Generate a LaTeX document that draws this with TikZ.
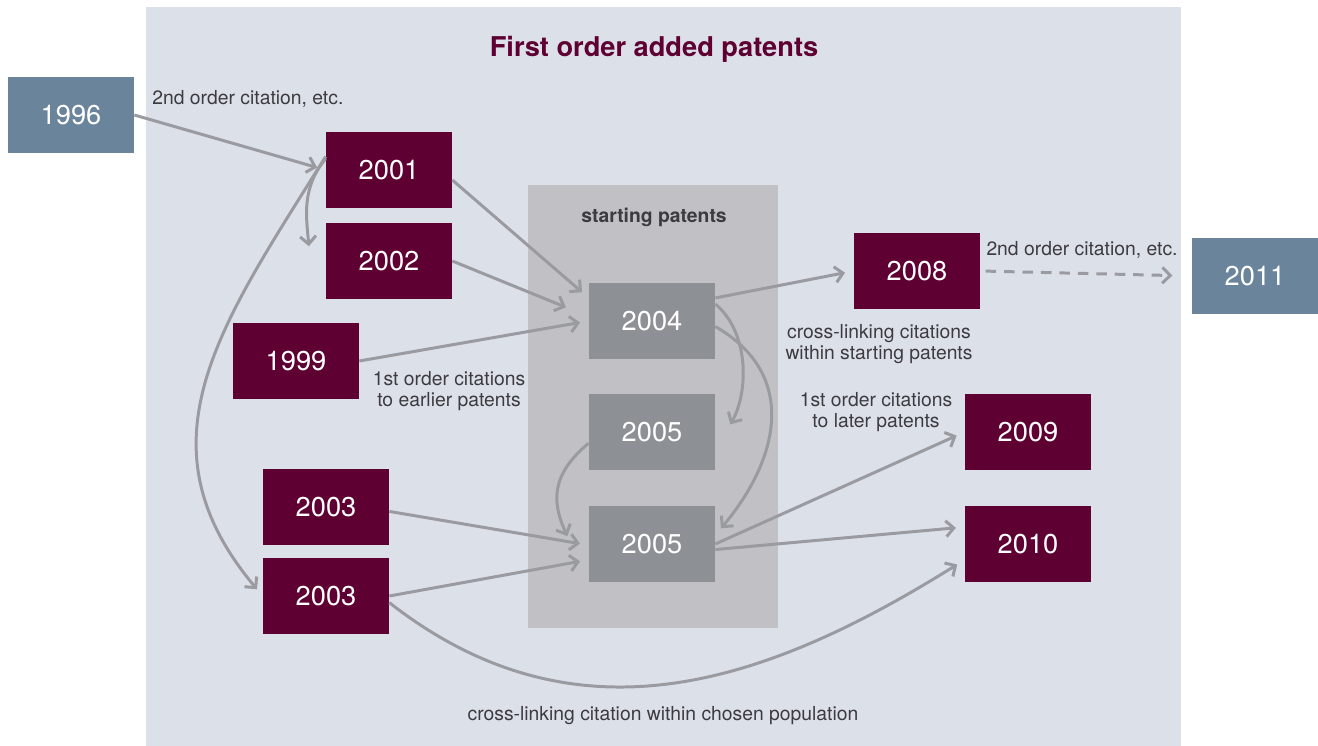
\documentclass[tikz,border=0pt]{standalone}
\usepackage{fontspec}
\setmainfont{TeX Gyre Heros}
\usepackage{tikz}
\usetikzlibrary{arrows.meta, positioning}

\definecolor{patentred}{RGB}{94,0,50}
\definecolor{seedgrey}{RGB}{141,144,149}
\definecolor{outerblue}{RGB}{106,132,155}
\definecolor{panelbg}{RGB}{220,224,233}
\definecolor{seedbg}{RGB}{192,192,197}
\definecolor{citegrey}{RGB}{154,155,160}
\definecolor{labelgrey}{RGB}{60,60,64}

\begin{document}
\begin{tikzpicture}[x=0.02cm, y=-0.02cm,
    year/.style={minimum width=2.52cm, minimum height=1.52cm, inner sep=0pt, text=white, font=\fontsize{15.5}{18}\selectfont},
    added/.style={year, fill=patentred},
    seed/.style={year, fill=seedgrey},
    outer/.style={year, fill=outerblue},
    cite/.style={draw=citegrey, line width=1.7pt, -{Straight Barb[length=4.5pt,width=9pt]}, shorten >=5pt},
    note/.style={text=labelgrey, font=\fontsize{11}{11.5}\selectfont, align=center, inner sep=0pt}]

        \useasboundingbox (0,0) rectangle (1318,746);
        \fill[panelbg] (146,7) rectangle (1181,746);
        \fill[seedbg] (528,185) rectangle (778,628);

        \node[text=patentred, font=\bfseries\fontsize{15.5}{18}\selectfont] (title) at (654,49) {First order added patents};
        \node[text=labelgrey, font=\bfseries\fontsize{11}{13}\selectfont] (seedtitle) at (654,217) {starting patents};

        % outside the chosen population
        \node[outer] (y1996) at (71,115) {1996};
        \node[outer] (y2011) at (1255,276) {2011};

        % first order added patents
        \node[added] (y2001) at (389,170) {2001};
        \node[added] (y2002) at (389,261) {2002};
        \node[added] (y1999) at (296,361) {1999};
        \node[added] (y2003a) at (326,507) {2003};
        \node[added] (y2003b) at (326,596) {2003};
        \node[added] (y2008) at (917,271) {2008};
        \node[added] (y2009) at (1028,432) {2009};
        \node[added] (y2010) at (1028,544) {2010};

        % starting patents
        \node[seed] (y2004) at (652,321) {2004};
        \node[seed] (y2005a) at (652,432) {2005};
        \node[seed] (y2005b) at (652,544) {2005};

        % labels
        \node[note, anchor=west] (second1) at (152,99) {2nd order citation, etc.};
        \node[note] (earlier) at (449,391) {1st order citations\\to earlier patents};
        \node[note] (crossseed) at (879,344) {cross-linking citations\\within starting patents};
        \node[note] (second2) at (1082,250) {2nd order citation, etc.};
        \node[note] (later) at (876,412) {1st order citations\\to later patents};
        \node[note] (crosspop) at (663,716) {cross-linking citation within chosen population};

        % citations into the starting patents
        \draw[cite] (y1996.east) -- (y2001.west);
        \draw[cite] (y2001.-9) -- (y2004.160);
        \draw[cite, shorten >=14pt] (y2002.east) -- (y2004.176);
        \draw[cite] (y1999.east) -- (y2004.west);
        \draw[cite] (y2003a.-4) -- (y2005b.181);
        \draw[cite] (y2003b.east) -- (y2005b.194);

        % citations among added patents
        \draw[cite] (y2001.170) to[out=230, in=95] ([shift={(-16,-6)}]y2002.west);
        \draw[cite] (y2001.168) to[out=238, in=130, looseness=1.15] (y2003b.west);
        \draw[cite] (y2003b.-6) to[out=-38, in=212, looseness=1.05] (y2010.194);

        % cross-linking within the starting patents
        \draw[cite] (y2004.15) to[out=-40, in=60, looseness=0.9] ([xshift=6]y2005a.east);
        \draw[cite] (y2004.-5) to[out=-30, in=50, looseness=1.2] (y2005b.8);
        \draw[cite] (y2005a.190) to[out=220, in=115, looseness=1.2] ([xshift=-10]y2005b.west);

        % citations out of the starting patents
        \draw[cite] (y2004.20) -- (y2008.west);
        \draw[cite] (y2005b.east) -- (y2009.west);
        \draw[cite] (y2005b.-5) -- (y2010.165);
        \draw[cite, dashed, dash pattern=on 6pt off 4.5pt, shorten <=3pt, shorten >=11pt] (y2008.east) -- (y2011.west);

\end{tikzpicture}
\end{document}
